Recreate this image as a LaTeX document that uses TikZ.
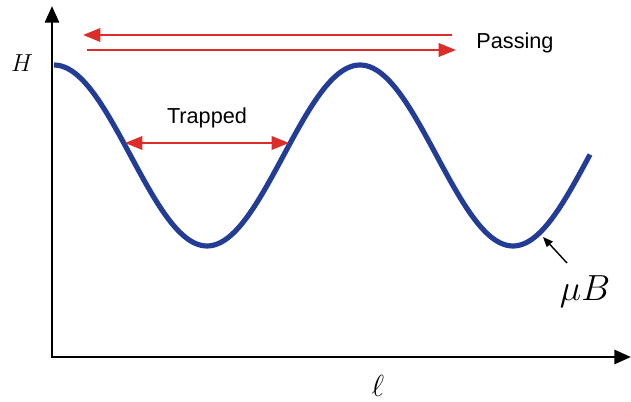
\RequirePackage{fix-cm}
\documentclass[tikz,border=0pt]{standalone}
\usepackage{fontspec}
\setmainfont{Liberation Sans}
\usetikzlibrary{arrows.meta}

\definecolor{bleucourbe}{RGB}{35,60,150}
\definecolor{rougefleche}{RGB}{220,45,40}

\begin{document}
\begin{tikzpicture}[
    x=0.03cm, y=-0.03cm,
    axis/.style={line width=2.4pt, -{Triangle[length=0.5cm, width=0.42cm]}},
    curve/.style={line width=4.4pt, draw=bleucourbe},
    redarrow/.style={line width=2pt, draw=rougefleche,
        {Triangle[length=0.52cm, width=0.4cm]}-{Triangle[length=0.52cm, width=0.4cm]}},
    onearrow/.style={line width=2pt, draw=rougefleche,
        -{Triangle[length=0.52cm, width=0.4cm]}},
    label/.style={font=\fontsize{18.5}{22}\selectfont},
    mathlbl/.style={font=\fontsize{21}{24}\selectfont, anchor=base}
]
\useasboundingbox (0,0) rectangle (631,402);

% axes
\coordinate (origin) at (52,357);
\coordinate (ytip)   at (52,6);
\coordinate (xtip)   at (631,357);
\draw[axis] ([yshift=-1.2pt]origin) -- (ytip);
\draw[axis] ([xshift=-1.2pt]origin) -- (xtip);
\node[mathlbl] (hlab) at (22,72) {$H$};
\node[mathlbl, font=\fontsize{26}{30}\selectfont] (ell) at (378,397) {$\ell$};

% courbe
\draw[curve] plot[domain=54:590, samples=120, smooth]
    (\x, {155.5-90.5*cos((\x-54)/306*360)});

% particules piegees
\coordinate (tl) at (125,143);
\coordinate (tr) at (289,143);
\draw[redarrow] (tl) -- (tr);
\node[label] (trapped) at (207,118) {Trapped};

% particules passantes
\coordinate (pa) at (452,35);
\coordinate (pb) at (83,35);
\coordinate (pc) at (87,50);
\coordinate (pd) at (456,50);
\draw[onearrow] (pa) -- (pb);
\draw[onearrow] (pc) -- (pd);
\node[label] (passing) at (515,43) {Passing};

% champ
\node[font=\fontsize{31}{36}\selectfont, anchor=base] (mub) at (585,301) {$\mu B$};
\coordinate (mubtip) at (543,237);
\draw[line width=1.2pt, -{Triangle[length=0.3cm, width=0.24cm]}] (567,263) -- (mubtip);

\end{tikzpicture}
\end{document}
